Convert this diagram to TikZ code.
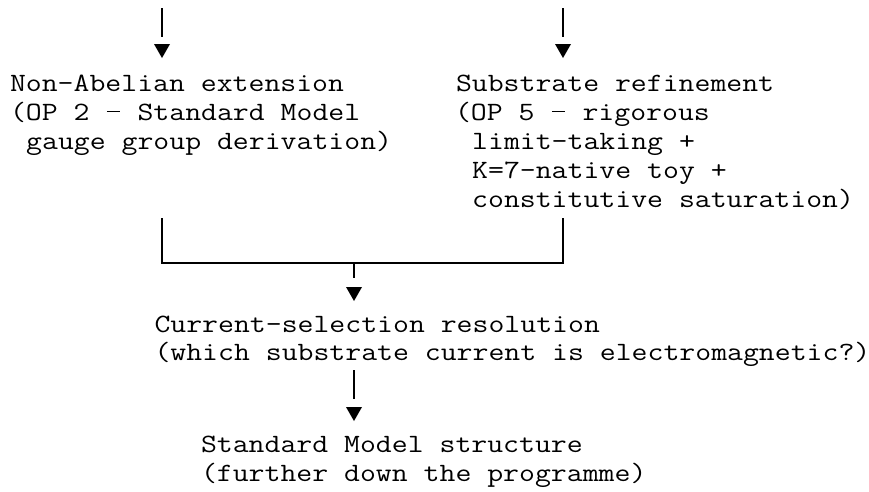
\documentclass[tikz,border=0pt]{standalone}
\usepackage{fontspec}
\newfontfamily\monofont[FakeStretch=1.17]{Latin Modern Mono}
\newcommand\emdsh{\makebox[16.2pt]{\rule[7.6pt]{13.5pt}{1.4pt}}}
\begin{document}
\begin{tikzpicture}[x=1pt,y=-1pt,
  txt/.style={font=\monofont\fontsize{26.4}{29}\selectfont, anchor=base west, inner sep=0pt, outer sep=0pt},
  link/.style={line width=1.8pt, line cap=butt},
  arrowhead/.pic={\fill (-8,0) -- (8,0) -- (0,14) -- cycle;}]
\useasboundingbox (0,0) rectangle (869,491);

% text blocks
\node[txt] (nab1) at (10,91)    {Non-Abelian extension};
\node[txt] (nab2) at (10,120)   {(OP 2 \emdsh{} Standard Model};
\node[txt] (nab3) at (26.2,149) {gauge group derivation)};

\node[txt] (sub1) at (456,91)    {Substrate refinement};
\node[txt] (sub2) at (455,120)   {(OP 5 \emdsh{} rigorous};
\node[txt] (sub3) at (472.2,149) {limit-taking +};
\node[txt] (sub4) at (472.2,178) {K=7-native toy +};
\node[txt] (sub5) at (472.2,207) {constitutive saturation)};

\node[txt] (cur1) at (154.5,332) {Current-selection resolution};
\node[txt] (cur2) at (154.5,360) {(which substrate current is electromagnetic?)};

\node[txt] (sm1) at (201,452) {Standard Model structure};
\node[txt] (sm2) at (201,481) {(further down the programme)};

% connector points
\coordinate (inL)  at (162,8);
\coordinate (inLe) at (162,37);
\coordinate (inR)  at (563,8);
\coordinate (inRe) at (563,37);
\coordinate (outL) at (162,218);
\coordinate (outR) at (563,218);
\coordinate (join) at (354,263);
\coordinate (stub) at (354,278);
\coordinate (down) at (354,370);
\coordinate (downe) at (354,399);

% top incoming arrows
\draw[link] (inL) -- (inLe);
\pic at (162,44) {arrowhead};
\draw[link] (inR) -- (inRe);
\pic at (563,44) {arrowhead};

% merge
\draw[link] (outL) |- (join) -| (outR);
\draw[link] (join) -- (stub);
\pic at (354,287) {arrowhead};

% down to standard model
\draw[link] (down) -- (downe);
\pic at (354,407) {arrowhead};
\end{tikzpicture}
\end{document}
